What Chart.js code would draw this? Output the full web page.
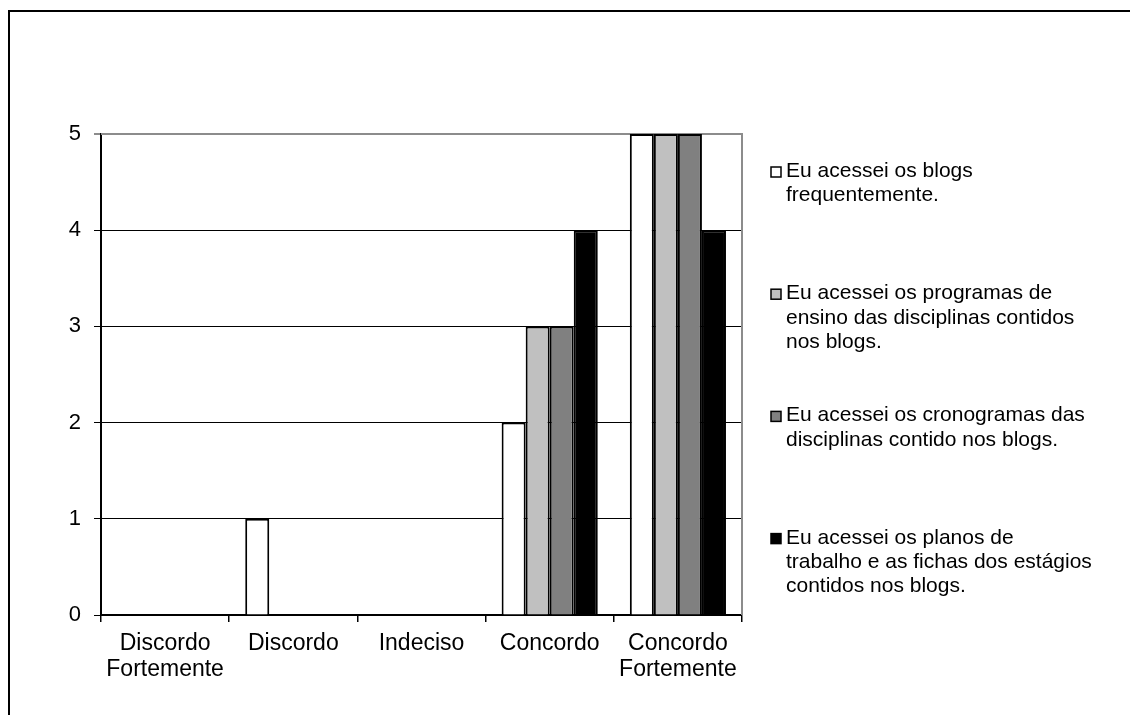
<!DOCTYPE html>
<html>
<head>
<meta charset="utf-8">
<script src="https://cdn.jsdelivr.net/npm/chart.js@4/dist/chart.umd.min.js"></script>
<style>
  html, body { margin: 0; padding: 0; background: #ffffff; overflow: hidden; }
  canvas { display: block; }
</style>
</head>
<body>
<canvas id="c" width="1130" height="715" style="width:1130px;height:715px"></canvas>
<script>
// Response categories (x axis)
const categories = [["Discordo", "Fortemente"], "Discordo", "Indeciso", "Concordo", ["Concordo", "Fortemente"]];

// Series names, one line per array entry
const seriesNames = [
  ["Eu acessei os blogs", "frequentemente."],
  ["Eu acessei os programas de", "ensino das disciplinas contidos", "nos blogs."],
  ["Eu acessei os cronogramas das", "disciplinas contido nos blogs."],
  ["Eu acessei os planos de", "trabalho e as fichas dos estágios", "contidos nos blogs."]
];

// Answer counts per category
const blogsFrequentes = [0, 1, 0, 2, 5];
const programasEnsino = [0, 0, 0, 3, 5];
const cronogramas     = [0, 0, 0, 3, 5];
const planosTrabalho  = [0, 0, 0, 4, 4];

// Value axis ticks
const yTicks = [0, 1, 2, 3, 4, 5];

const seriesValues = [blogsFrequentes, programasEnsino, cronogramas, planosTrabalho];
const seriesColors = ["#ffffff", "#c0c0c0", "#808080", "#000000"];
const FONT = '"Liberation Sans", Arial, sans-serif';

// Outer frame and the grey plot-area border
const framePlugin = {
  id: 'frame',
  beforeDraw(chart) {
    const ctx = chart.ctx;
    ctx.save();
    ctx.fillStyle = '#ffffff';
    ctx.fillRect(0, 0, chart.width, chart.height);
    ctx.strokeStyle = '#000000';
    ctx.lineWidth = 2;
    ctx.beginPath();
    ctx.moveTo(9, chart.height);
    ctx.lineTo(9, 11);
    ctx.lineTo(chart.width, 11);
    ctx.stroke();
    ctx.restore();
  },
  beforeDatasetsDraw(chart) {
    const a = chart.chartArea;
    const ctx = chart.ctx;
    ctx.save();
    ctx.strokeStyle = '#8c8c8c';
    ctx.lineWidth = 2;
    ctx.beginPath();
    ctx.moveTo(a.left, a.top);
    ctx.lineTo(a.right, a.top);
    ctx.lineTo(a.right, a.bottom);
    ctx.stroke();
    ctx.restore();
  }
};

// Legend on the right, with wrapped entries
const sideLegend = {
  id: 'sideLegend',
  afterDraw(chart) {
    const ctx = chart.ctx;
    const x0 = 771, firstBase = 177, entryGap = 122.2, lineGap = 24.3;
    ctx.save();
    ctx.font = '21px ' + FONT;
    ctx.textBaseline = 'alphabetic';
    ctx.textAlign = 'left';
    chart.data.datasets.forEach((ds, i) => {
      const base = firstBase + i * entryGap;
      ctx.fillStyle = ds.backgroundColor;
      ctx.fillRect(x0, base - 10, 10, 10);
      ctx.strokeStyle = '#000000';
      ctx.lineWidth = 1.5;
      ctx.strokeRect(x0, base - 10, 10, 10);
      ctx.fillStyle = '#000000';
      seriesNames[i].forEach((line, k) => {
        ctx.fillText(line, x0 + 15, base + k * lineGap);
      });
    });
    ctx.restore();
  }
};

new Chart(document.getElementById('c'), {
  type: 'bar',
  data: {
    labels: categories,
    datasets: seriesValues.map((vals, i) => ({
      label: seriesNames[i].join(' '),
      data: vals,
      backgroundColor: seriesColors[i],
      borderColor: '#000000',
      borderWidth: ctx => (ctx.raw === 0 ? 0 : 2),
      categoryPercentage: 0.75,
      barPercentage: 1.0
    }))
  },
  options: {
    responsive: false,
    animation: false,
    events: [],
    devicePixelRatio: 1,
    layout: { padding: { left: 0, right: 388, top: 134, bottom: 0 } },
    plugins: {
      legend: { display: false },
      tooltip: { enabled: false },
      title: { display: false }
    },
    scales: {
      x: {
        offset: true,
        grid: {
          display: true,
          offset: true,
          drawOnChartArea: false,
          drawTicks: true,
          tickLength: 7,
          color: '#000000',
          lineWidth: 1.5
        },
        border: { display: true, color: '#000000', width: 1.5 },
        ticks: {
          color: '#000000',
          font: { family: FONT, size: 23, lineHeight: 1.16 },
          padding: 8,
          maxRotation: 0,
          autoSkip: false
        },
        afterFit(scale) { scale.height = 100; }
      },
      y: {
        min: yTicks[0],
        max: yTicks[yTicks.length - 1],
        afterBuildTicks(scale) { scale.ticks = yTicks.map(v => ({ value: v })); },
        grid: {
          drawTicks: true,
          tickLength: 7,
          color: ctx => (ctx.tick && ctx.tick.value === 5 ? '#8c8c8c' : '#000000'),
          lineWidth: ctx => (ctx.tick && ctx.tick.value === 5 ? 2 : 1)
        },
        border: { display: true, color: '#000000', width: 2 },
        ticks: {
          color: '#000000',
          font: { family: FONT, size: 22 },
          padding: 13
        },
        afterFit(scale) { scale.width = 101; }
      }
    }
  },
  plugins: [framePlugin, sideLegend]
});
</script>
</body>
</html>
